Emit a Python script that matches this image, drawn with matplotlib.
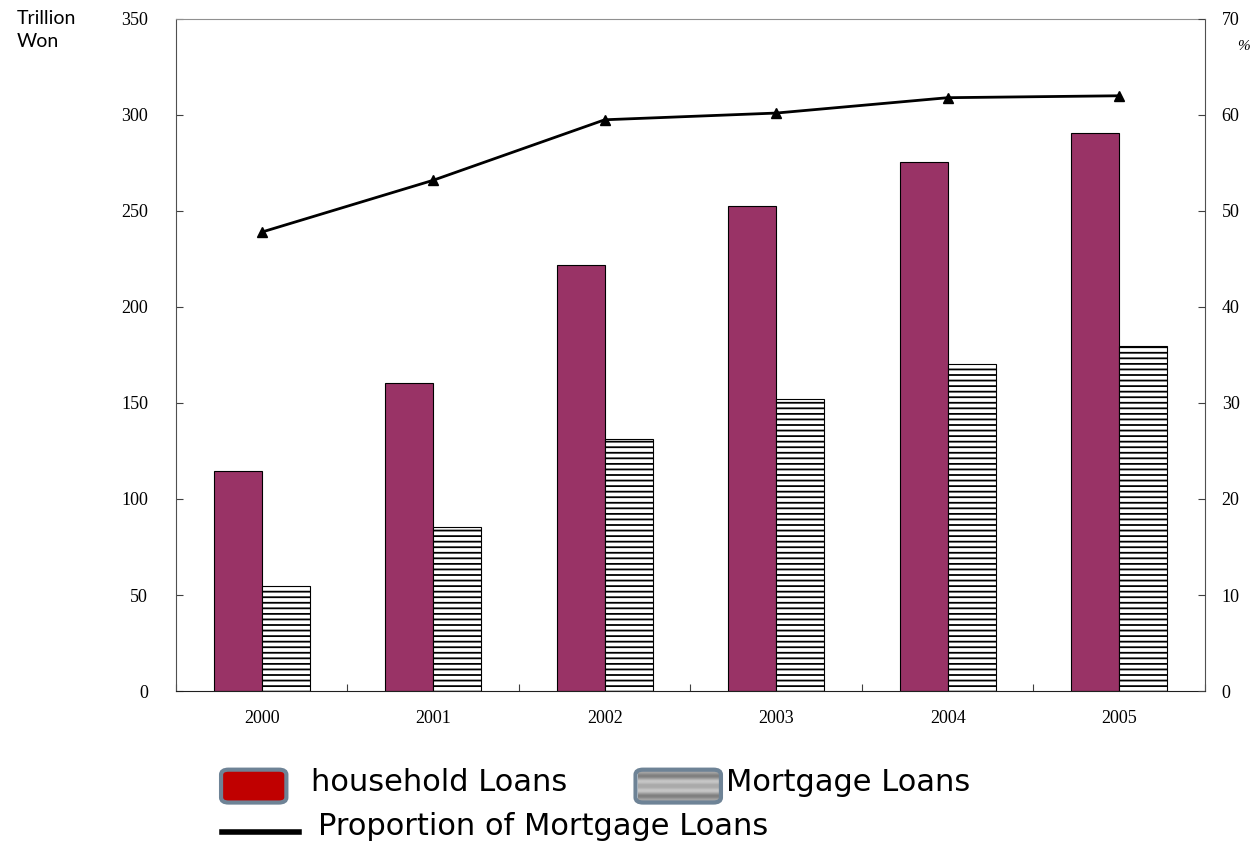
import matplotlib
matplotlib.use("Agg")
import matplotlib.pyplot as plt
import numpy as np
from matplotlib.patches import FancyBboxPatch
from matplotlib.lines import Line2D

years = ["2000", "2001", "2002", "2003", "2004", "2005"]
household = [114.6, 160.4, 222.0, 252.6, 275.5, 290.6]
mortgage = [54.7, 85.4, 131.2, 152.0, 170.3, 179.7]
proportion = [47.8, 53.2, 59.5, 60.2, 61.8, 62.0]

plt.rcParams['hatch.linewidth'] = 1.3
tickfont = ['Liberation Serif', 'DejaVu Serif']
labelfont = ['Lato', 'DejaVu Sans']
legfont = ['DejaVu Sans']

fig = plt.figure(figsize=(12.56, 8.43), dpi=100)
ax = fig.add_axes([0.1401, 0.1803, 0.8193, 0.7972])

x = np.arange(len(years)) + 0.5
w = 0.28
ax.bar(x - w / 2, household, w, color='#993366', edgecolor='black', linewidth=0.8)
ax.bar(x + w / 2, mortgage, w, color='white', edgecolor='black', hatch='---', linewidth=0.8)

ax.set_xlim(0, len(years))
ax.set_ylim(0, 350)
ax.set_yticks(range(0, 351, 50))
ax.set_xticks(np.arange(len(years) + 1))
ax.set_xticklabels([])
ax.set_xticks(x, minor=True)
ax.set_xticklabels(years, minor=True, fontfamily=tickfont, fontsize=13)
ax.tick_params(axis='x', which='minor', length=0, pad=14)
ax.tick_params(axis='x', which='major', direction='in', length=5, color='#404040')
ax.tick_params(axis='y', direction='in', length=5, color='#404040', pad=20)
for lab in ax.get_yticklabels():
    lab.set_fontfamily(tickfont)
    lab.set_fontsize(13)

for s in ['left', 'right']:
    ax.spines[s].set_color('#505050')
ax.spines['top'].set_color('#909090')
ax.spines['bottom'].set_color('#202020')

ax2 = ax.twinx()
ax2.plot(x, proportion, color='black', linewidth=2, marker='^', markersize=7)
ax2.set_ylim(0, 70)
ax2.set_yticks(range(0, 71, 10))
ax2.tick_params(axis='y', direction='in', length=5, color='#404040', pad=12)
for lab in ax2.get_yticklabels():
    lab.set_fontfamily(tickfont)
    lab.set_fontsize(13)
for s in ax2.spines.values():
    s.set_visible(False)

fig.text(0.0135, 0.988, "Trillion\nWon", fontsize=14, family=labelfont, va='top', ha='left', linespacing=1.45)
fig.text(0.990, 0.945, "%", fontsize=11, family=tickfont, style='italic', ha='center', va='center')

# legend drawn below the plot
fig.patches.append(FancyBboxPatch((0.178, 0.050), 0.048, 0.035, boxstyle="round,pad=0.002,rounding_size=0.006",
                                  transform=fig.transFigure, facecolor='#c00000', edgecolor='#6e8396', linewidth=3))
fig.text(0.248, 0.072, "household Loans", fontsize=22, family=legfont, va='center')

gax = fig.add_axes([0.508, 0.050, 0.064, 0.035])
grad = np.abs(np.linspace(-1, 1, 40)) ** 0.6
stripe = 0.55 + 0.35 * np.cos(np.linspace(0, 6 * np.pi, 40)) * 0.3 + 0.25 * (1 - grad)
gax.imshow(stripe.reshape(-1, 1), cmap='gray', vmin=0, vmax=1, aspect='auto', extent=[0, 1, 0, 1])
gax.axis('off')
fig.patches.append(FancyBboxPatch((0.508, 0.050), 0.064, 0.035, boxstyle="round,pad=0.002,rounding_size=0.006",
                                  transform=fig.transFigure, facecolor='none', edgecolor='#6e8396', linewidth=3, zorder=5))
fig.text(0.578, 0.072, "Mortgage Loans", fontsize=22, family=legfont, va='center')

fig.lines.append(Line2D([0.177, 0.238], [0.013, 0.013], transform=fig.transFigure, color='black', linewidth=4))
fig.text(0.253, 0.020, "Proportion of Mortgage Loans", fontsize=22, family=legfont, va='center')

fig.savefig("out.png", dpi=100)
